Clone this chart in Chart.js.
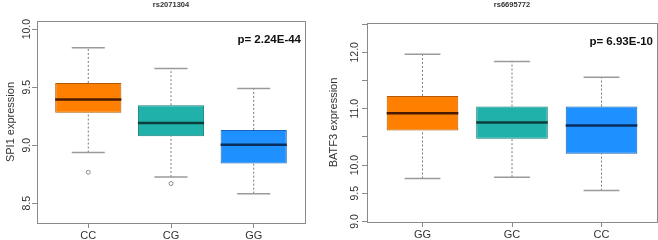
<!DOCTYPE html>
<html>
<head>
<meta charset="utf-8">
<script src="https://cdn.jsdelivr.net/npm/chart.js@4/dist/chart.umd.min.js"></script>
<style>
  html, body { margin: 0; padding: 0; background: #fff; }
  #wrap { position: relative; width: 658px; height: 240px; overflow: hidden; }
  #c1 { position: absolute; left: 0; top: 0; }
  #c2 { position: absolute; left: 324px; top: 0; }
</style>
</head>
<body>
<div id="wrap">
  <canvas id="c1" width="329" height="240"></canvas>
  <canvas id="c2" width="334" height="240"></canvas>
</div>
<script>
// ---------- data: left panel (rs2071304, SPI1) ----------
const leftTitle = 'rs2071304';
const leftP = 'p= 2.24E-44';
const leftYLabel = 'SPI1 expression';
const leftCategories = ['CC', 'CG', 'GG'];
const leftMin    = [8.937, 8.727, 8.583];
const leftQ1     = [9.279, 9.078, 8.842];
const leftMedian = [9.394, 9.192, 9.003];
const leftQ3     = [9.537, 9.345, 9.132];
const leftMax    = [9.840, 9.661, 9.489];
const leftOutliers = [[8.767], [8.670], []];
const leftTicks = [8.5, 9.0, 9.5, 10.0];
const leftTickLabels = ['8.5', '9.0', '9.5', '10.0'];

// ---------- data: right panel (rs6695772, BATF3) ----------
const rightTitle = 'rs6695772';
const rightP = 'p= 6.93E-10';
const rightYLabel = 'BATF3 expression';
const rightCategories = ['GG', 'GC', 'CC'];
const rightMin    = [9.762, 9.785, 9.547];
const rightQ1     = [10.612, 10.465, 10.200];
const rightMedian = [10.919, 10.754, 10.701];
const rightQ3     = [11.227, 11.038, 11.038];
const rightMax    = [11.965, 11.835, 11.557];
const rightOutliers = [[], [], []];
const rightTicks = [9.0, 9.5, 10.0, 10.5, 11.0, 11.5, 12.0, 12.5];
const rightTickLabels = ['9.0', '9.5', '10.0', '', '11.0', '', '12.0', ''];

// ---------- styles ----------
const fills   = ['#FF7F00', '#20B2AA', '#1E90FF'];
const borders = ['#b35a00', '#167f79', '#1763b5'];
const medians = ['#4a1a00', '#0b3f3b', '#0a2e5c'];
const GRAY = '#8a8a8a';
const FONT = "'Liberation Sans', Arial, sans-serif";

const framePlugin = {
  id: 'frame',
  afterDraw(chart, args, opts) {
    const {ctx, chartArea: a} = chart;
    ctx.save();
    ctx.strokeStyle = GRAY;
    ctx.lineWidth = 1;
    ctx.strokeRect(Math.round(a.left) + 0.5, Math.round(a.top) + 0.5,
                   Math.round(a.right - a.left), Math.round(a.bottom - a.top));
    // panel title
    ctx.fillStyle = '#333';
    ctx.font = "bold 7.5px " + FONT;
    ctx.textAlign = 'center';
    ctx.textBaseline = 'middle';
    ctx.fillText(opts.title, (a.left + a.right) / 2, 5);
    // p-value
    ctx.fillStyle = '#111';
    ctx.font = "bold 11.5px " + FONT;
    ctx.textAlign = 'right';
    ctx.fillText(opts.p, a.right - 4, a.top + opts.pOffset);
    ctx.restore();
  }
};

function unitPx(ctx, frac) {
  const x = ctx.chart.scales.x;
  return Math.abs(x.getPixelForValue(1 + frac) - x.getPixelForValue(1));
}

function makeChart(canvasId, cfg) {
  const n = cfg.categories.length;
  const boxData = cfg.categories.map((c, i) => ({x: i + 1, y: [cfg.q1[i], cfg.q3[i]]}));
  const medData = cfg.categories.map((c, i) => ({x: i + 1, y: cfg.median[i]}));
  const capData = [];
  const stemData = [];
  cfg.categories.forEach((c, i) => {
    capData.push({x: i + 1, y: cfg.min[i]}, {x: i + 1, y: cfg.max[i]});
    stemData.push({x: i + 1, y: cfg.min[i]}, {x: i + 1, y: cfg.q1[i]}, {x: i + 1, y: null});
    stemData.push({x: i + 1, y: cfg.q3[i]}, {x: i + 1, y: cfg.max[i]}, {x: i + 1, y: null});
  });
  const outData = [];
  cfg.outliers.forEach((arr, i) => arr.forEach(v => outData.push({x: i + 1, y: v})));

  return new Chart(document.getElementById(canvasId), {
    data: {
      datasets: [
        {
          type: 'scatter', data: medData, order: 0,
          pointStyle: 'line', rotation: 0,
          radius: ctx => unitPx(ctx, 0.4),
          hoverRadius: ctx => unitPx(ctx, 0.4),
          borderColor: cfg.categories.map((c, i) => medians[i]),
          borderWidth: 2.5, hoverBorderWidth: 2.5
        },
        {
          type: 'scatter', data: outData, order: 0,
          pointStyle: 'circle', radius: 2, hoverRadius: 2,
          borderColor: GRAY, backgroundColor: 'rgba(0,0,0,0)', borderWidth: 1
        },
        {
          type: 'scatter', data: capData, order: 1,
          pointStyle: 'line', rotation: 0,
          radius: ctx => unitPx(ctx, 0.2),
          hoverRadius: ctx => unitPx(ctx, 0.2),
          borderColor: '#9a9a9a', borderWidth: 1.5, hoverBorderWidth: 1.5
        },
        {
          type: 'bar', data: boxData, order: 2,
          backgroundColor: fills.slice(0, n), borderColor: borders.slice(0, n),
          borderWidth: 1, borderSkipped: false,
          barPercentage: 0.8, categoryPercentage: 1.0
        },
        {
          type: 'line', data: stemData, order: 3,
          borderColor: '#7a7a7a', borderWidth: 1, borderDash: [2, 2],
          pointRadius: 0, spanGaps: false, fill: false
        }
      ]
    },
    options: {
      responsive: false, animation: false,
      events: [],
      layout: { padding: cfg.padding },
      plugins: {
        legend: { display: false }, tooltip: { enabled: false },
        frame: { title: cfg.title, p: cfg.p, pOffset: cfg.pOffset }
      },
      scales: {
        x: {
          type: 'linear', min: 0.38, max: 3.62, offset: false,
          afterBuildTicks: s => { s.ticks = cfg.categories.map((c, i) => ({value: i + 1})); },
          afterFit: s => { s.height = cfg.xHeight; },
          ticks: {
            autoSkip: false, maxRotation: 0, padding: 1,
            color: '#333', font: { family: FONT, size: 11 },
            callback: v => cfg.categories[Math.round(v) - 1]
          },
          grid: { offset: false, drawOnChartArea: false, tickLength: 5, tickColor: GRAY, tickWidth: 1 },
          border: { display: true, color: GRAY }
        },
        y: {
          type: 'linear', min: cfg.yMin, max: cfg.yMax,
          afterBuildTicks: s => { s.ticks = cfg.ticks.map(v => ({value: v})); },
          afterFit: s => { s.width = cfg.yWidth; },
          ticks: {
            autoSkip: false, minRotation: 90, maxRotation: 90,
            crossAlign: 'center', padding: cfg.tickPad,
            color: '#333', font: { family: FONT, size: 10.5 },
            callback: v => { const k = cfg.ticks.indexOf(v); return k >= 0 ? cfg.tickLabels[k] : ''; }
          },
          grid: { drawOnChartArea: false, tickLength: 5, tickColor: GRAY, tickWidth: 1 },
          border: { display: true, color: GRAY },
          title: {
            display: true, text: cfg.yLabel, color: '#333',
            font: { family: FONT, size: 11 }, padding: { top: cfg.titlePad, bottom: 0 }
          }
        }
      }
    },
    plugins: [framePlugin]
  });
}

makeChart('c1', {
  title: leftTitle, p: leftP, pOffset: 19, yLabel: leftYLabel,
  categories: leftCategories, min: leftMin, q1: leftQ1, median: leftMedian,
  q3: leftQ3, max: leftMax, outliers: leftOutliers,
  ticks: leftTicks, tickLabels: leftTickLabels,
  yMin: 8.33, yMax: 10.07,
  padding: { top: 21, right: 24, bottom: 0, left: 0 },
  xHeight: 17, yWidth: 37, tickPad: -5, titlePad: 4
});

makeChart('c2', {
  title: rightTitle, p: rightP, pOffset: 19, yLabel: rightYLabel,
  categories: rightCategories, min: rightMin, q1: rightQ1, median: rightMedian,
  q3: rightQ3, max: rightMax, outliers: rightOutliers,
  ticks: rightTicks, tickLabels: rightTickLabels,
  yMin: 8.99, yMax: 12.52,
  padding: { top: 23, right: 1, bottom: 0, left: 0 },
  xHeight: 18, yWidth: 43, tickPad: -3, titlePad: 3
});
</script>
</body>
</html>
